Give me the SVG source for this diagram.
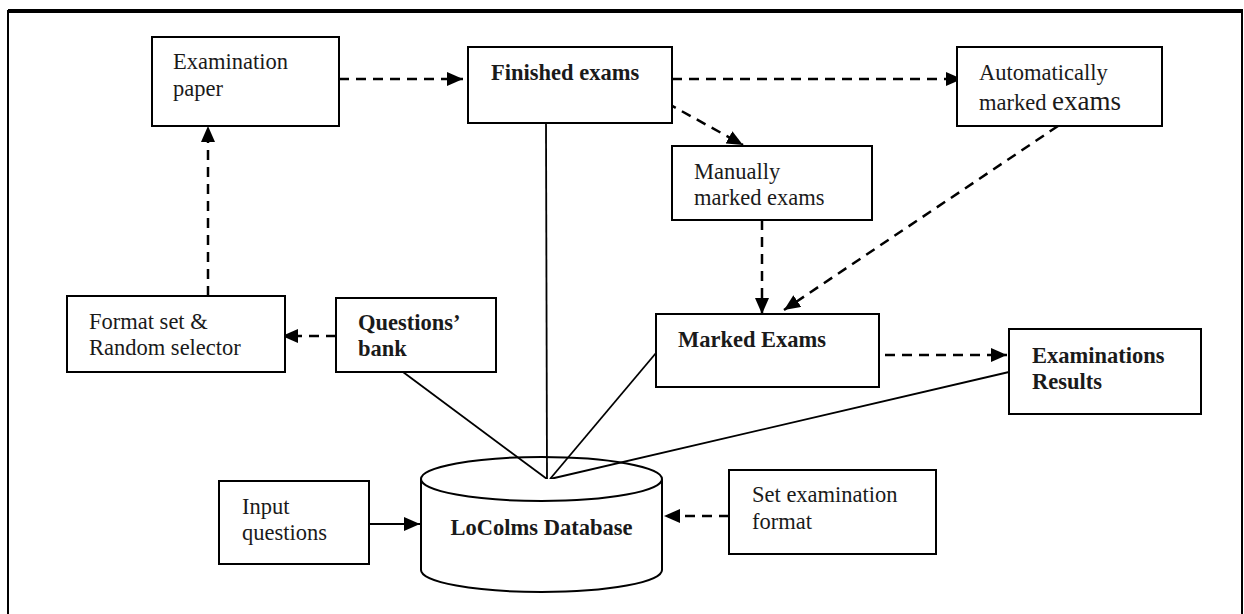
<svg xmlns="http://www.w3.org/2000/svg" width="1244" height="614" viewBox="0 0 1244 614">
  <defs>
    <style>
      .box { fill: #fff; stroke: #000; stroke-width: 2; }
      .t { font-family: "Liberation Serif", "Times New Roman", serif; font-size: 22.5px; fill: #1a1a1a; }
      .b { font-weight: bold; }
      .dash { fill: none; stroke: #000; stroke-width: 2.5; stroke-dasharray: 10 7; }
      .solid { fill: none; stroke: #000; stroke-width: 1.8; }
    </style>
    <marker id="ah" viewBox="0 0 16 14" refX="16" refY="7" markerWidth="16" markerHeight="14" markerUnits="userSpaceOnUse" orient="auto">
      <path d="M0,0 L16,7 L0,14 Z" fill="#000"/>
    </marker>
  </defs>
  <rect width="1244" height="614" fill="#fff"/>
  <g id="frame">
    <line x1="8" y1="11" x2="1243" y2="11" stroke="#000" stroke-width="4"/>
    <line x1="8" y1="10" x2="8" y2="614" stroke="#000" stroke-width="2"/>
    <line x1="1242" y1="10" x2="1242" y2="614" stroke="#000" stroke-width="2"/>
  </g>

  <g id="connectors">
    <line class="dash" x1="339" y1="79" x2="463" y2="79" marker-end="url(#ah)"/>
    <line class="dash" x1="672" y1="79" x2="962" y2="79" marker-end="url(#ah)"/>
    <line class="dash" x1="667" y1="103" x2="743" y2="145" marker-end="url(#ah)"/>
    <line class="dash" x1="762" y1="220" x2="762" y2="314" marker-end="url(#ah)"/>
    <line class="dash" x1="1058" y1="126" x2="784" y2="310" marker-end="url(#ah)"/>
    <line class="dash" x1="885" y1="355" x2="1007" y2="355" marker-end="url(#ah)"/>
    <line class="dash" x1="208" y1="296" x2="208" y2="126" marker-end="url(#ah)"/>
    <line class="dash" x1="336" y1="336" x2="282" y2="336" marker-end="url(#ah)"/>
    <line class="dash" x1="729" y1="516" x2="664" y2="516" marker-end="url(#ah)"/>
    <line class="solid" x1="369" y1="524" x2="420" y2="524" stroke-width="2.5" marker-end="url(#ah)"/>
    <line class="solid" x1="546" y1="123" x2="547" y2="479"/>
    <line class="solid" x1="403" y1="372" x2="547" y2="479"/>
    <line class="solid" x1="656" y1="353" x2="550" y2="479"/>
    <line class="solid" x1="1009" y1="372" x2="550" y2="479"/>
  </g>

  <g id="examination-paper">
    <rect class="box" x="152" y="37" width="187" height="89"/>
    <text class="t" x="173" y="69">Examination</text>
    <text class="t" x="173" y="96">paper</text>
  </g>
  <g id="finished-exams">
    <rect class="box" x="468" y="47" width="204" height="76"/>
    <text class="t b" x="491" y="80">Finished exams</text>
  </g>
  <g id="automatically-marked">
    <rect class="box" x="957" y="47" width="205" height="79"/>
    <text class="t" x="979" y="80">Automatically</text>
    <text class="t" x="979" y="110">marked <tspan font-size="27">exams</tspan></text>
  </g>
  <g id="manually-marked">
    <rect class="box" x="672" y="146" width="200" height="74"/>
    <text class="t" x="694" y="179">Manually</text>
    <text class="t" x="694" y="205">marked exams</text>
  </g>
  <g id="marked-exams">
    <rect class="box" x="656" y="314" width="223" height="73"/>
    <text class="t b" x="678" y="347">Marked Exams</text>
  </g>
  <g id="examinations-results">
    <rect class="box" x="1009" y="329" width="192" height="85"/>
    <text class="t b" x="1032" y="363">Examinations</text>
    <text class="t b" x="1032" y="389">Results</text>
  </g>
  <g id="format-set">
    <rect class="box" x="67" y="296" width="218" height="76"/>
    <text class="t" x="89" y="329">Format set &amp;</text>
    <text class="t" x="89" y="355">Random selector</text>
  </g>
  <g id="questions-bank">
    <rect class="box" x="336" y="298" width="160" height="74"/>
    <text class="t b" x="358" y="330">Questions’</text>
    <text class="t b" x="358" y="356">bank</text>
  </g>
  <g id="database">
    <path d="M421,479 L421,570 A120.5,22 0 0 0 662,570 L662,479" fill="#fff" stroke="#000" stroke-width="2"/>
    <ellipse cx="541.5" cy="479" rx="120.5" ry="22" fill="none" stroke="#000" stroke-width="2"/>
    <text class="t b" x="541.5" y="535" text-anchor="middle">LoColms Database</text>
  </g>
  <g id="input-questions">
    <rect class="box" x="219" y="481" width="150" height="83"/>
    <text class="t" x="242" y="514">Input</text>
    <text class="t" x="242" y="540">questions</text>
  </g>
  <g id="set-exam-format">
    <rect class="box" x="729" y="470" width="207" height="84"/>
    <text class="t" x="752" y="502">Set examination</text>
    <text class="t" x="752" y="529">format</text>
  </g>
</svg>
